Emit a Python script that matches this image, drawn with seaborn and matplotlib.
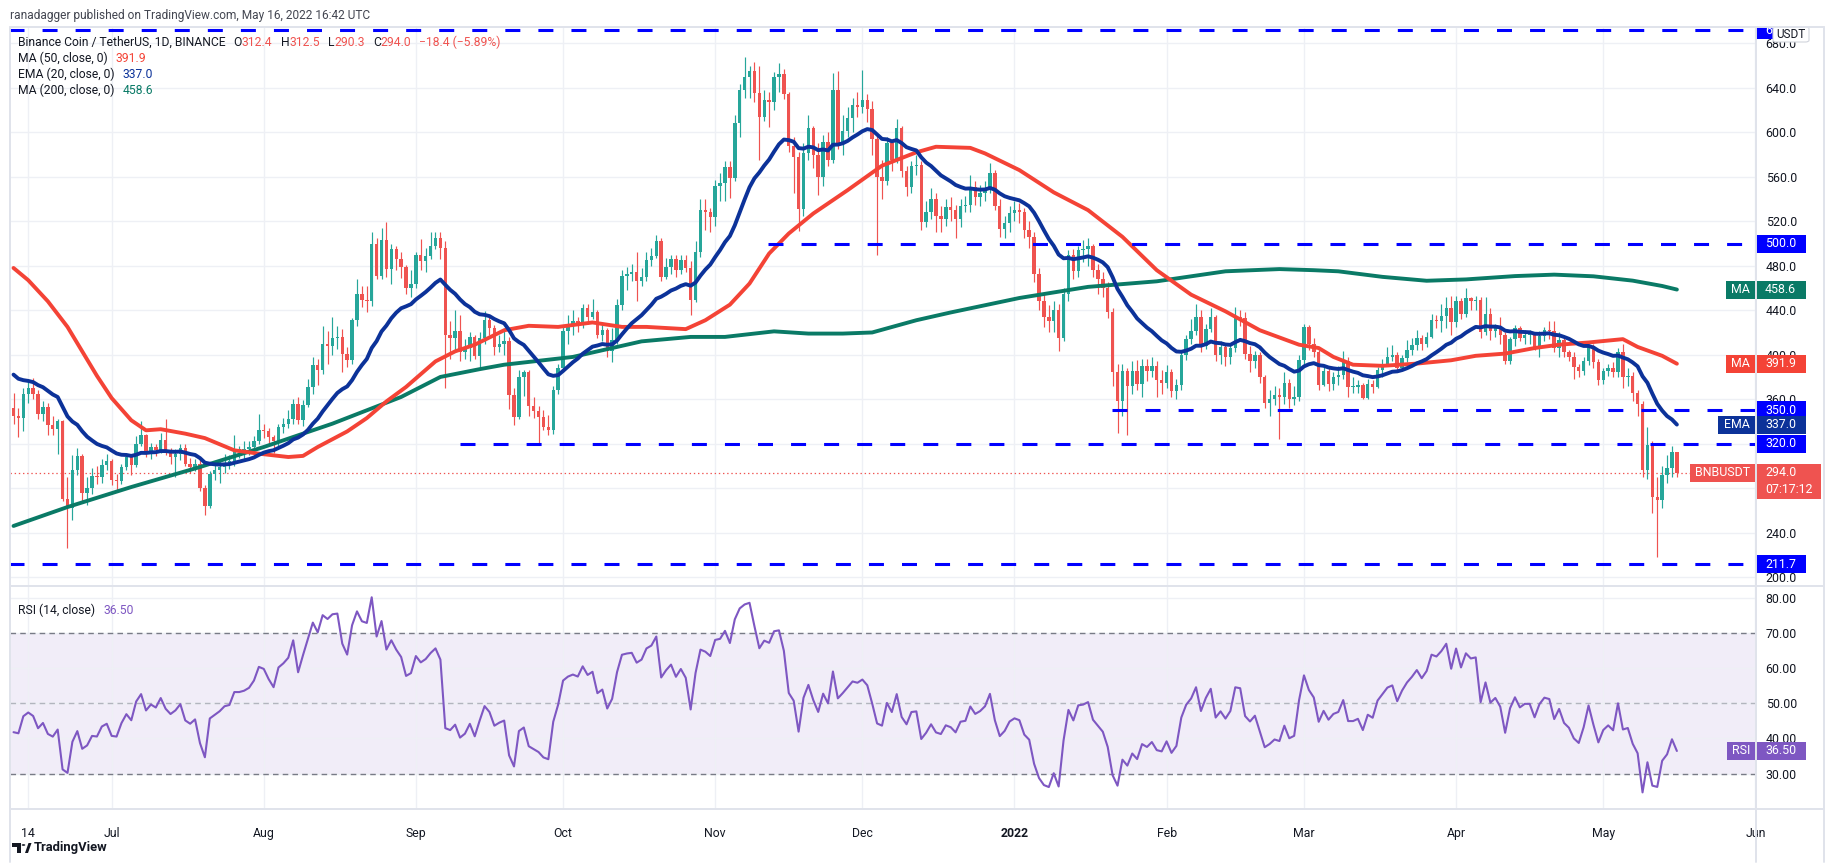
import numpy as np
import pandas as pd
import seaborn as sns
import matplotlib.pyplot as plt
from matplotlib.patches import Rectangle, Polygon, Circle, FancyBboxPatch
from matplotlib.lines import Line2D
from matplotlib.ticker import FuncFormatter
from matplotlib.transforms import blended_transform_factory
#---------------------------------------------------------------------------#
# BNB / USDT daily candles, 11 Jun 2021 -> 16 May 2022
first_day = '2021-06-11'
first_open = 352.0

close = [345, 343, 365, 370, 365, 347, 353, 337, 333, 340,
         270, 262, 296, 309, 276, 280, 291, 290, 301, 304,
         287, 286, 299, 308, 301, 320, 328, 311, 317, 314,
         323, 313, 308, 311, 316, 302, 299, 302, 280, 264,
         293, 296, 299, 303, 304, 314, 314, 315, 317, 322,
         332, 331, 326, 322, 335, 338, 342, 356, 341, 355,
         371, 391, 386, 410, 408, 415, 416, 401, 395, 431,
         455, 449, 448, 500, 471, 503, 477, 495, 486, 479,
         460, 464, 490, 484, 489, 498, 505, 496, 418, 415,
         421, 402, 406, 416, 399, 415, 431, 424, 407, 410,
         412, 364, 344, 380, 384, 354, 349, 344, 335, 332,
         368, 388, 421, 427, 430, 428, 442, 434, 438, 418,
         422, 403, 413, 445, 471, 473, 474, 466, 470, 485,
         489, 502, 470, 479, 486, 476, 485, 478, 449, 492,
         530, 528, 524, 552, 554, 569, 559, 608, 638, 650,
         655, 635, 614, 629, 627, 650, 652, 634, 588, 578,
         531, 581, 604, 580, 560, 591, 575, 638, 590, 601,
         613, 625, 623, 629, 621, 594, 560, 556, 590, 575,
         604, 565, 551, 570, 571, 519, 528, 540, 525, 522,
         533, 530, 522, 534, 535, 551, 542, 545, 550, 563,
         534, 513, 518, 527, 530, 528, 512, 506, 473, 448,
         434, 430, 440, 415, 455, 490, 475, 494, 495, 498,
         476, 468, 460, 438, 384, 358, 385, 372, 385, 374,
         390, 385, 390, 377, 375, 384, 367, 373, 400, 414,
         421, 434, 408, 423, 434, 400, 407, 398, 406, 434,
         433, 401, 394, 400, 380, 357, 360, 364, 362, 375,
         360, 362, 395, 425, 410, 402, 373, 385, 374, 380,
         382, 394, 371, 371, 373, 361, 374, 371, 386, 392,
         398, 400, 388, 397, 404, 409, 415, 410, 416, 431,
         430, 435, 442, 429, 448, 437, 451, 448, 449, 420,
         437, 421, 425, 418, 394, 414, 424, 415, 418, 418,
         407, 417, 422, 421, 406, 413, 402, 398, 389, 385,
         394, 408, 393, 377, 385, 388, 384, 402, 380, 381,
         366, 356, 296, 319, 272, 269, 292, 298, 312.4, 294.0]

high = [366, 352, 370, 378, 379, 368, 358, 357, 345, 342,
        341, 290, 310, 316, 311, 290, 298, 300, 306, 311,
        306, 293, 302, 312, 310, 327, 340, 329, 321, 320,
        330, 342, 316, 315, 320, 320, 307, 306, 306, 283,
        295, 301, 306, 311, 310, 328, 318, 322, 322, 327,
        347, 338, 334, 328, 338, 343, 350, 360, 362, 359,
        378, 398, 396, 426, 421, 434, 426, 423, 407, 433,
        468, 462, 462, 510, 505, 514, 519, 500, 498, 492,
        481, 476, 492, 504, 496, 510, 510, 510, 502, 430,
        440, 436, 414, 420, 418, 420, 439, 434, 427, 418,
        424, 416, 370, 386, 386, 386, 362, 354, 350, 346,
        372, 392, 425, 436, 440, 434, 446, 446, 450, 440,
        428, 424, 424, 450, 476, 479, 482, 492, 478, 492,
        496, 508, 505, 487, 490, 490, 490, 490, 484, 502,
        540, 540, 532, 557, 563, 574, 574, 616, 643, 668,
        660, 663, 660, 638, 636, 654, 662, 657, 636, 596,
        582, 590, 616, 606, 590, 598, 600, 653, 655, 616,
        623, 631, 636, 656, 634, 628, 598, 575, 596, 592,
        612, 606, 570, 574, 580, 574, 538, 550, 545, 534,
        540, 542, 535, 540, 543, 562, 556, 553, 556, 572,
        566, 540, 525, 534, 538, 536, 532, 520, 510, 478,
        455, 445, 448, 446, 460, 494, 495, 498, 503, 505,
        500, 482, 474, 465, 442, 392, 392, 388, 394, 395,
        396, 396, 398, 394, 386, 391, 387, 378, 404, 418,
        432, 446, 440, 428, 442, 436, 412, 410, 410, 443,
        440, 438, 408, 403, 402, 382, 368, 372, 370, 384,
        378, 372, 400, 428, 427, 415, 404, 389, 388, 384,
        390, 403, 398, 380, 377, 375, 378, 377, 389, 396,
        407, 409, 402, 400, 413, 415, 422, 418, 420, 437,
        436, 446, 452, 453, 453, 451, 460, 452, 453, 452,
        452, 442, 428, 434, 420, 416, 427, 426, 422, 422,
        420, 421, 425, 430, 430, 420, 417, 404, 402, 392,
        398, 410, 410, 396, 388, 392, 393, 406, 410, 388,
        384, 368, 358, 335, 322, 290, 300, 310, 318, 312.5]

low = [338, 326, 331, 357, 360, 342, 340, 328, 328, 311,
       268, 226, 251, 292, 268, 265, 275, 284, 285, 296,
       283, 278, 284, 296, 292, 299, 318, 308, 306, 309,
       312, 310, 302, 290, 305, 300, 294, 295, 277, 256,
       262, 287, 285, 294, 297, 300, 307, 304, 310, 314,
       320, 325, 320, 312, 318, 330, 334, 338, 338, 336,
       353, 365, 373, 383, 392, 400, 405, 384, 389, 392,
       426, 443, 438, 444, 468, 468, 470, 464, 476, 469,
       455, 452, 460, 476, 474, 486, 495, 486, 370, 396,
       402, 394, 396, 394, 396, 388, 410, 418, 400, 402,
       400, 351, 337, 342, 363, 345, 343, 321, 332, 328,
       329, 365, 384, 410, 418, 420, 424, 428, 432, 415,
       412, 398, 393, 410, 440, 458, 466, 448, 462, 466,
       480, 487, 466, 468, 473, 470, 473, 474, 436, 447,
       488, 512, 510, 516, 538, 538, 541, 556, 596, 631,
       631, 627, 575, 610, 605, 620, 636, 630, 582, 545,
       511, 525, 575, 568, 544, 552, 570, 572, 585, 580,
       596, 600, 614, 617, 609, 580, 490, 540, 553, 565,
       572, 560, 543, 545, 562, 512, 515, 522, 510, 510,
       516, 520, 505, 515, 528, 528, 535, 534, 538, 545,
       530, 506, 505, 510, 520, 518, 505, 496, 465, 440,
       425, 420, 420, 403, 412, 448, 468, 470, 483, 480,
       470, 455, 452, 433, 372, 330, 345, 328, 365, 368,
       362, 376, 380, 362, 365, 370, 362, 360, 368, 395,
       410, 418, 402, 405, 420, 394, 392, 390, 392, 402,
       426, 396, 384, 388, 375, 352, 345, 355, 324, 356,
       352, 355, 358, 390, 404, 398, 368, 372, 367, 368,
       373, 378, 362, 366, 366, 360, 360, 366, 370, 380,
       390, 394, 384, 386, 393, 400, 404, 404, 407, 415,
       424, 420, 424, 418, 425, 432, 434, 440, 440, 415,
       418, 413, 416, 410, 392, 392, 408, 412, 410, 410,
       404, 398, 412, 414, 402, 398, 398, 394, 378, 380,
       382, 391, 388, 373, 374, 381, 380, 380, 370, 372,
       358, 345, 290, 288, 258, 218, 262, 285, 290, 290.3]

# MA(50) and MA(200), x = days after the first candle
ma50_day = [0, 3, 7, 11, 14, 17, 20, 24, 27, 30, 35, 39, 45, 50, 56, 59, 62,
            68, 72, 76, 80, 86, 90, 94, 100, 105, 111, 118, 124, 129, 137,
            141, 146, 150, 154, 158, 163, 170, 177, 184, 188, 195, 198, 205,
            212, 219, 226, 233, 240, 247, 254, 262, 266, 269, 273, 279, 286,
            293, 298, 304, 310, 315, 321, 328, 331, 336, 339]
ma50_val = [478, 467, 448, 425, 403, 381, 361, 341, 332, 333, 329, 325, 314,
            311, 308, 309, 317, 331, 343, 358, 371, 394, 403, 409, 422, 426,
            425, 429, 425, 425, 423, 431, 445, 464, 491, 509, 527, 548, 570,
            582, 587, 586, 581, 566, 546, 530, 506, 476, 454, 439, 422, 409,
            406, 398, 391, 390, 392, 395, 399, 401, 406, 409, 411, 414, 407,
            399, 391.9]
ma200_day = [0, 11, 24, 38, 51, 65, 79, 87, 95, 100, 114, 128, 138, 145, 155,
             162, 169, 175, 184, 191, 205, 219, 233, 247, 258, 265, 270, 279,
             288, 296, 306, 314, 322, 330, 336, 339]
ma200_val = [246, 263, 281, 299, 317, 338, 362, 380, 387, 391, 398, 412, 416,
             416, 421, 419, 419, 420, 431, 438, 451, 461, 466, 475, 477, 476,
             475, 470, 466.5, 467.7, 470.7, 472, 470.5, 466.6, 461.8, 458.6]
ema_seed = 386.0
rsi_seed_gain, rsi_seed_loss = 9.0, 12.0

# hand drawn support / resistance lines
level_val = [691.8, 500.0, 350.0, 320.0, 211.7]
level_from = [None, '2021-11-11 17:00', '2022-01-20 19:00', '2021-09-09 22:00', None]

tick_dates = ['2021-06-14', '2021-07-01', '2021-08-01', '2021-09-01', '2021-10-01',
              '2021-11-01', '2021-12-01', '2022-01-01', '2022-02-01', '2022-03-01',
              '2022-04-01', '2022-05-01', '2022-06-01']
tick_text = ['14', 'Jul', 'Aug', 'Sep', 'Oct', 'Nov', 'Dec', '2022', 'Feb', 'Mar',
             'Apr', 'May', 'Jun']
#---------------------------------------------------------------------------#
UP, DOWN = '#26a69a', '#ef5350'
MA50_C, EMA_C, MA200_C = '#f44336', '#0c3299', '#0a7a66'
BLUE, RSI_C, TXT = '#0000ff', '#7e57c2', '#131722'
GRID, BORDER = '#eef0f5', '#e0e3eb'

sns.set_theme(style='white')
plt.rcParams['font.family'] = ['Roboto', 'DejaVu Sans']
plt.rcParams['lines.scale_dashes'] = False

W, H = 1834, 867
fig = plt.figure(figsize=(W / 100, H / 100), dpi=100)
fig.patch.set_facecolor('white')


def fx(px):
    return px / W


def fy(py):
    return 1 - py / H


ax = fig.add_axes([fx(9.5), fy(585), fx(1756) - fx(9.5), fy(27) - fy(585)])
axr = fig.add_axes([fx(9.5), fy(808), fx(1756) - fx(9.5), fy(586) - fy(808)], sharex=ax)

df = pd.DataFrame({'date': pd.date_range(first_day, periods=len(close), freq='D'),
                   'close': close, 'high': high, 'low': low})
df['open'] = df['close'].shift(1).fillna(first_open)
df['high'] = df[['high', 'open', 'close']].max(axis=1)
df['low'] = df[['low', 'open', 'close']].min(axis=1)
df['up'] = df['close'] >= df['open']

x_left = pd.Timestamp(first_day) - pd.Timedelta(days=0.82)
x_right = pd.Timestamp('2022-06-01 03:00')

# candles
for is_up, col in [(True, UP), (False, DOWN)]:
    d = df[df['up'] == is_up]
    ax.vlines(d['date'], d['low'], d['high'], color=col, lw=0.85, zorder=3)
    ax.bar(d['date'], np.maximum((d['close'] - d['open']).abs(), 0.9),
           bottom=np.minimum(d['open'], d['close']), width=0.7, color=col,
           lw=0, zorder=3)

# moving averages
ema = pd.Series([ema_seed] + close).ewm(span=20, adjust=False).mean().iloc[1:].values
ma50_df = pd.DataFrame({'date': pd.Timestamp(first_day) + pd.to_timedelta(ma50_day, unit='D'),
                        'v': ma50_val})
ma200_df = pd.DataFrame({'date': pd.Timestamp(first_day) + pd.to_timedelta(ma200_day, unit='D'),
                         'v': ma200_val})
sns.lineplot(data=ma200_df, x='date', y='v', ax=ax, color=MA200_C, lw=2.8, zorder=4)
sns.lineplot(data=ma50_df, x='date', y='v', ax=ax, color=MA50_C, lw=2.8, zorder=4)
sns.lineplot(x=df['date'], y=ema, ax=ax, color=EMA_C, lw=2.8, zorder=4)

# support / resistance
for v, start in zip(level_val, level_from):
    x0 = x_left if start is None else pd.Timestamp(start)
    ax.plot([x0, x_right], [v, v], color=BLUE, lw=2.2, ls=(0, (10.8, 13.0)), zorder=5)
ax.axhline(294.0, color=DOWN, lw=0.9, ls=(0, (1, 2)), zorder=2)

ax.set_xlim(x_left, x_right)
ax.set_ylim(192.9, 694.7)
ax.set_yticks(np.arange(200, 681, 40))
ax.yaxis.set_major_formatter(FuncFormatter(lambda v, p: f'{v:.1f}'))

# RSI (14)
chg = np.diff(np.r_[first_open, close])
g = pd.Series(np.r_[rsi_seed_gain, np.clip(chg, 0, None)]).ewm(alpha=1 / 14, adjust=False).mean().iloc[1:].values
l = pd.Series(np.r_[rsi_seed_loss, np.clip(-chg, 0, None)]).ewm(alpha=1 / 14, adjust=False).mean().iloc[1:].values
rsi = 100 - 100 / (1 + g / l)
axr.axhspan(30, 70, color=RSI_C, alpha=0.1, lw=0, zorder=0)
axr.axhline(70, color='#787b86', lw=1, ls=(0, (4, 3)), zorder=1)
axr.axhline(30, color='#787b86', lw=1, ls=(0, (4, 3)), zorder=1)
axr.axhline(50, color='#b2b5be', lw=1, ls=(0, (4, 3)), zorder=1)
sns.lineplot(x=df['date'], y=rsi, ax=axr, color=RSI_C, lw=1.5, zorder=3)
axr.set_ylim(20.2, 83.4)
axr.set_yticks(np.arange(30, 81, 10))
axr.yaxis.set_major_formatter(FuncFormatter(lambda v, p: f'{v:.2f}'))

axr.set_xticks(pd.to_datetime(tick_dates))
axr.set_xticklabels(tick_text)
axr.get_xticklabels()[7].set_fontweight('bold')

for a in (ax, axr):
    a.set_xlabel('')
    a.set_ylabel('')
    a.yaxis.tick_right()
    a.grid(True, color=GRID, lw=1, zorder=0)
    a.set_axisbelow(True)
    for s in a.spines.values():
        s.set_visible(False)
    a.tick_params(axis='y', length=0, pad=7, labelsize=8.9, labelcolor=TXT)
ax.tick_params(axis='x', length=0, labelbottom=False)
axr.tick_params(axis='x', length=0, pad=14, labelsize=8.8, labelcolor=TXT)

# frame of the widget
for xs, ys in [([9.5, 1824], [26.5, 26.5]), ([9.5, 1824], [585.5, 585.5]),
               ([9.5, 1824], [809, 809]), ([9.5, 9.5], [26.5, 862]),
               ([1756, 1756], [26.5, 862]), ([1824, 1824], [26.5, 862])]:
    fig.add_artist(Line2D([fx(x) for x in xs], [fy(y) for y in ys], color=BORDER,
                          lw=1.4, zorder=9))


def tag(axis, y, text, fc, x0, x1, h=18, center=False, size=8.9):
    tr = blended_transform_factory(fig.transFigure, axis.transData)
    y0, y1 = axis.get_ylim()
    per_px = (y1 - y0) / (axis.get_position().height * H)
    fig.add_artist(Rectangle((fx(x0), y - h / 2 * per_px), (x1 - x0) / W, h * per_px,
                             transform=tr, fc=fc, ec='none', zorder=6))
    if center:
        fig.text((fx(x0) + fx(x1)) / 2, y, text, transform=tr, ha='center', va='center',
                 color='white', fontsize=size, zorder=6.2)
    else:
        fig.text(fx(1765), y, text, transform=tr, ha='left', va='center',
                 color='white', fontsize=size, zorder=6.2)
    return per_px


for v in level_val:
    tag(ax, v, f'{v:.1f}', BLUE, 1756, 1806)
tag(ax, 458.6, 'MA', MA200_C, 1726, 1755, center=True)
tag(ax, 458.6, '458.6', MA200_C, 1756, 1806)
tag(ax, 391.9, 'MA', MA50_C, 1726, 1755, center=True)
tag(ax, 391.9, '391.9', MA50_C, 1756, 1806)
tag(ax, 337.0, 'EMA', EMA_C, 1718, 1755, center=True)
tag(ax, 337.0, '337.0', EMA_C, 1756, 1806)
tag(ax, 294.0, 'BNBUSDT', DOWN, 1690, 1755, center=True)
pp = tag(ax, 294.0, '294.0', DOWN, 1756, 1821)
tr = blended_transform_factory(fig.transFigure, ax.transData)
fig.add_artist(Rectangle((fx(1756), 294.0 - 26.5 * pp), 65 / W, 18 * pp, transform=tr,
                         fc=DOWN, ec='none', zorder=6))
fig.text(fx(1765), 294.0 - 17 * pp, '07:17:12', transform=tr, ha='left', va='center',
         color='white', fontsize=8.9, zorder=6.2)
tag(axr, 36.5, 'RSI', RSI_C, 1727, 1755, center=True)
tag(axr, 36.5, '36.50', RSI_C, 1756, 1806)

# clip the top of the 691.8 tag, then the currency label
fig.add_artist(Rectangle((fx(1740), fy(26.5)), (1834 - 1740) / W, 26.5 / H, fc='white',
                         ec='none', zorder=6.5))
fig.add_artist(FancyBboxPatch((fx(1773), fy(42)), 36 / W, 15 / H,
                              boxstyle='round,pad=0,rounding_size=0.002', fc='white',
                              ec='#d1d4dc', lw=0.8, zorder=6.6))
fig.text(fx(1791), fy(34.5), 'USDT', ha='center', va='center', fontsize=8.5, color=TXT, zorder=6.7)

# header and legends
renderer = fig.canvas.get_renderer()


def rich(x_px, y_px, parts, size=8.7):
    x = x_px
    for s, c, gap in parts:
        t = fig.text(fx(x), fy(y_px), s, color=c, fontsize=size, ha='left', va='center', zorder=8)
        x += t.get_window_extent(renderer).width + gap


fig.text(fx(10), fy(15), 'ranadagger published on TradingView.com, May 16, 2022 16:42 UTC',
         ha='left', va='center', fontsize=8.6, color='#434651')
rich(18, 42, [('Binance Coin / TetherUS, 1D, BINANCE', TXT, 8), ('O', TXT, 0), ('312.4', DOWN, 8),
              ('H', TXT, 0), ('312.5', DOWN, 8), ('L', TXT, 0), ('290.3', DOWN, 8),
              ('C', TXT, 0), ('294.0', DOWN, 8), ('\u221218.4 (\u22125.89%)', DOWN, 0)])
rich(18, 58, [('MA (50, close, 0)', TXT, 8), ('391.9', MA50_C, 0)])
rich(18, 74, [('EMA (20, close, 0)', TXT, 8), ('337.0', EMA_C, 0)])
rich(18, 90, [('MA (200, close, 0)', TXT, 8), ('458.6', MA200_C, 0)])
rich(18, 610, [('RSI (14, close)', TXT, 8), ('36.50', RSI_C, 0)])

# footer logo
fig.add_artist(Polygon([(fx(12), fy(843)), (fx(21), fy(843)), (fx(21), fy(853)),
                        (fx(17), fy(853)), (fx(17), fy(847)), (fx(12), fy(847))],
                       closed=True, fc=TXT, ec='none'))
fig.add_artist(Circle((fx(23.5), fy(845)), 1.8 / W, fc=TXT, ec='none'))
fig.add_artist(Polygon([(fx(25), fy(853)), (fx(28.5), fy(843)), (fx(31.5), fy(843)),
                        (fx(28), fy(853))], closed=True, fc=TXT, ec='none'))
fig.text(fx(34), fy(848), 'TradingView', ha='left', va='center', fontsize=9.4,
         fontweight='bold', color=TXT)

fig.savefig('out.png', dpi=100)
